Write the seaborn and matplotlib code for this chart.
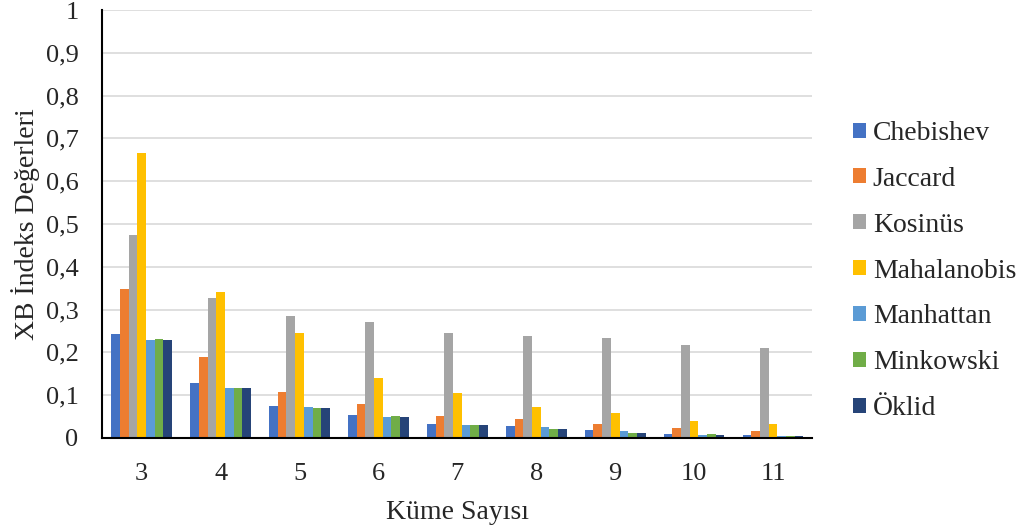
import matplotlib
matplotlib.use("Agg")
import matplotlib.pyplot as plt
import seaborn as sns
import pandas as pd

clusters = [3, 4, 5, 6, 7, 8, 9, 10, 11]
chebishev = [0.243, 0.129, 0.075, 0.054, 0.033, 0.027, 0.019, 0.009, 0.006]
jaccard = [0.348, 0.189, 0.108, 0.079, 0.051, 0.043, 0.033, 0.024, 0.016]
kosinus = [0.474, 0.327, 0.285, 0.270, 0.246, 0.238, 0.234, 0.217, 0.210]
mahalanobis = [0.665, 0.342, 0.246, 0.141, 0.105, 0.072, 0.057, 0.040, 0.033]
manhattan = [0.229, 0.117, 0.072, 0.048, 0.030, 0.025, 0.016, 0.006, 0.004]
minkowski = [0.231, 0.117, 0.069, 0.051, 0.030, 0.021, 0.012, 0.009, 0.004]
oklid = [0.229, 0.117, 0.069, 0.048, 0.030, 0.021, 0.012, 0.006, 0.004]

series_names = ["Chebishev", "Jaccard", "Kosinüs", "Mahalanobis", "Manhattan", "Minkowski", "Öklid"]
series_values = [chebishev, jaccard, kosinus, mahalanobis, manhattan, minkowski, oklid]
colors = ["#4472C4", "#ED7D31", "#A5A5A5", "#FFC000", "#5B9BD5", "#70AD47", "#264478"]
yticks = [0, 0.1, 0.2, 0.3, 0.4, 0.5, 0.6, 0.7, 0.8, 0.9, 1]
ytick_labels = ["0", "0,1", "0,2", "0,3", "0,4", "0,5", "0,6", "0,7", "0,8", "0,9", "1"]

rows = []
for name, vals in zip(series_names, series_values):
    for c, v in zip(clusters, vals):
        rows.append({"Küme": str(c), "Yöntem": name, "Değer": v})
df = pd.DataFrame(rows)

sns.set_theme(style="white")
plt.rcParams["font.family"] = ["Liberation Serif", "DejaVu Serif"]

fig = plt.figure(figsize=(10.22, 5.32), dpi=100)
ax = fig.add_axes([0.1, 0.177, 0.695, 0.804])
sns.barplot(data=df, x="Küme", y="Değer", hue="Yöntem", hue_order=series_names,
            order=[str(c) for c in clusters], palette=colors, width=0.77,
            saturation=1, ax=ax, edgecolor="none", linewidth=0)

ax.set_ylim(0, 1)
ax.set_yticks(yticks)
ax.set_yticklabels(ytick_labels, fontsize=19)
ax.tick_params(axis="x", labelsize=19, length=0, pad=18)
ax.tick_params(axis="y", length=0, pad=17)
ax.yaxis.grid(True, color="#D9D9D9", linewidth=1.2)
ax.set_axisbelow(True)
for s in ["top", "right"]:
    ax.spines[s].set_visible(False)
for s in ["left", "bottom"]:
    ax.spines[s].set_color("black")
    ax.spines[s].set_linewidth(1.5)
ax.set_xlabel("Küme Sayısı", fontsize=20, labelpad=11)
ax.set_ylabel("XB İndeks Değerleri", fontsize=20, labelpad=4)

leg = ax.legend(loc="center left", bbox_to_anchor=(1.041, 0.390), frameon=False,
                borderaxespad=0, fontsize=20, labelspacing=0.75, handlelength=0.47,
                handleheight=0.45, handletextpad=0.25)

fig.savefig("out.png", dpi=100)
